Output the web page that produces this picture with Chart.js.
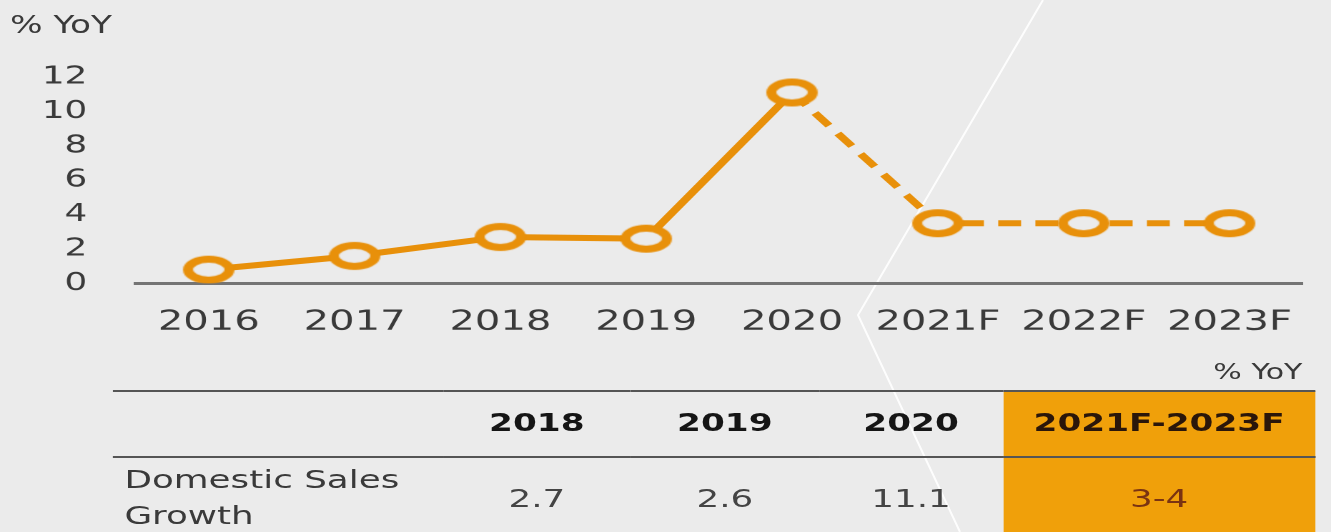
<!DOCTYPE html>
<html>
<head>
<meta charset="utf-8">
<script src="https://cdn.jsdelivr.net/npm/chart.js@4.4.0/dist/chart.umd.min.js"></script>
<style>
    html, body { margin: 0; padding: 0; }
    body {
        width: 1331px; height: 532px; overflow: hidden; position: relative;
        background: #ebebeb; font-family: "DejaVu Sans", sans-serif;
    }
    #deco { position: absolute; left: 0; top: 0; }
    /* the source slide is stretched sideways, so the whole thing is drawn narrow and scaled */
    #stage {
        position: absolute; left: 0; top: 0; width: 931px; height: 532px;
        transform: scaleX(1.4297); transform-origin: 0 0;
    }
    #unitTop { position: absolute; left: 7px; top: 11px; font-size: 24px; line-height: 28px; color: #3a3a3a; }
    #chartBox { position: absolute; left: 0; top: 0; width: 931px; height: 361px; }
    #unitTable { position: absolute; right: 20px; top: 360px; font-size: 21px; line-height: 24px; color: #3a3a3a; }
    #growthTable {
        position: absolute; left: 79px; top: 390px; border-collapse: collapse;
        table-layout: fixed; width: 841px;
    }
    #growthTable th, #growthTable td { padding: 0; text-align: center; color: #444; }
    #growthTable thead tr { border-top: 2px solid #555; border-bottom: 2px solid #555; height: 66px; }
    #growthTable th { font-size: 24px; font-weight: bold; color: #151515; padding-bottom: 2px; }
    #growthTable td { font-size: 25px; height: 78px; vertical-align: top; padding-top: 26px; }
    #growthTable td.label { text-align: left; padding: 4px 0 0 8px; font-size: 25px; line-height: 36px; color: #3a3a3a; }
    #growthTable .fc { background: #f0a00a; }
    #growthTable th.fc { color: #2a160a; }
    #growthTable td.fc { color: #7a3312; }
</style>
</head>
<body>
<svg id="deco" width="1331" height="532">
    <polyline points="1043,0 858,315 960,532" fill="none" stroke="#ffffff" stroke-width="2" opacity="0.9"/>
</svg>
<div id="stage">
    <div id="unitTop">% YoY</div>
    <div id="chartBox"><canvas id="lineChart"></canvas></div>
    <div id="unitTable">% YoY</div>
    <table id="growthTable">
        <colgroup>
            <col style="width:231px"><col style="width:131px"><col style="width:132px"><col style="width:128.5px"><col style="width:218.5px">
        </colgroup>
        <thead><tr id="headRow"></tr></thead>
        <tbody><tr id="dataRow"></tr></tbody>
    </table>
</div>
<script>
const years = ["2016", "2017", "2018", "2019", "2020", "2021F", "2022F", "2023F"];
const growth = [0.8, 1.6, 2.7, 2.6, 11.1, 3.5, 3.5, 3.5];
const lastActual = 4; // segments after 2020 are forecasts (dashed)
const yTicks = [0, 2, 4, 6, 8, 10, 12];

const tableCols = ["", "2018", "2019", "2020", "2021F-2023F"];
const rowLabel = "Domestic Sales Growth";
const rowValues = ["2.7", "2.6", "11.1", "3-4"];

const orange = "rgb(232, 144, 10)";
const bg = "#ebebeb";

// table
document.getElementById("headRow").innerHTML = tableCols
    .map((c, i) => `<th${i === tableCols.length - 1 ? ' class="fc"' : ""}>${c}</th>`).join("");
document.getElementById("dataRow").innerHTML =
    `<td class="label"><div style="width:215px">${rowLabel}</div></td>` +
    rowValues.map((v, i) => `<td${i === rowValues.length - 1 ? ' class="fc"' : ""}>${v}</td>`).join("");

// oval marker, the picture's circles are squashed wide
function makeMarker() {
    const c = document.createElement("canvas");
    c.width = 40; c.height = 32;
    const ctx = c.getContext("2d");
    ctx.beginPath();
    ctx.ellipse(20, 16, 14.5, 10.5, 0, 0, Math.PI * 2);
    ctx.fillStyle = bg;
    ctx.fill();
    ctx.lineWidth = 7;
    ctx.strokeStyle = orange;
    ctx.stroke();
    return c;
}

const ctx = document.getElementById("lineChart").getContext("2d");
new Chart(ctx, {
    type: "line",
    data: {
        labels: years,
        datasets: [{
            data: growth,
            borderColor: orange,
            borderWidth: 6,
            tension: 0,
            pointStyle: makeMarker(),
            pointRadius: 14,
            segment: {
                borderDash: c => c.p0DataIndex >= lastActual ? [16, 10] : undefined
            }
        }]
    },
    options: {
        responsive: true,
        maintainAspectRatio: false,
        animation: false,
        devicePixelRatio: 2,
        layout: { padding: { top: 77, right: 1, bottom: 0, left: 0 } },
        plugins: { legend: { display: false }, tooltip: { enabled: false } },
        scales: {
            x: {
                offset: true,
                grid: { display: false, drawTicks: false },
                border: { display: true, color: "#747474", width: 3 },
                ticks: {
                    color: "#3a3a3a", padding: 22, maxRotation: 0, autoSkip: false,
                    font: { family: "DejaVu Sans", size: 28 }
                }
            },
            y: {
                min: 0,
                max: 12,
                afterBuildTicks: s => { s.ticks = yTicks.map(v => ({ value: v })); },
                afterFit: s => { s.width = 95; },
                grid: { display: false, drawTicks: false },
                border: { display: false },
                ticks: {
                    color: "#3a3a3a", padding: 34, autoSkip: false,
                    font: { family: "DejaVu Sans", size: 25 }
                }
            }
        }
    }
});
</script>
</body>
</html>
